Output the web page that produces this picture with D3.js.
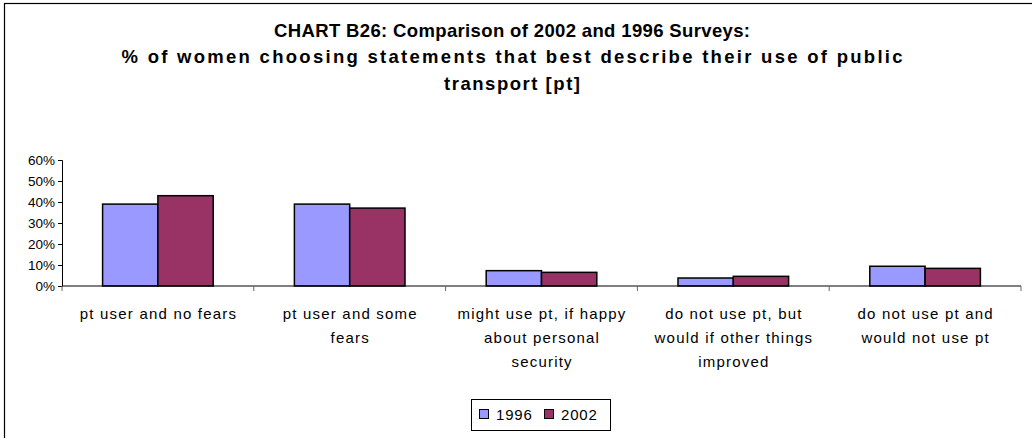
<!DOCTYPE html>
<html>
<head>
<meta charset="utf-8">
<script src="https://cdn.jsdelivr.net/npm/d3@7"></script>
<style>
	body { margin: 0; background: #fff; }
	svg { display: block; font-family: Arial, "Liberation Sans", sans-serif; }
</style>
</head>
<body>
<svg id="chart"></svg>
<script>
// chart data
var categories = [
	'pt user and no fears',
	'pt user and some\nfears',
	'might use pt, if happy\nabout personal\nsecurity',
	'do not use pt, but\nwould if other things\nimproved',
	'do not use pt and\nwould not use pt'
];
var series = ['1996', '2002'];
var values1996 = [0.39, 0.39, 0.073, 0.038, 0.094];
var values2002 = [0.43, 0.371, 0.065, 0.046, 0.084];
var yTicks = [0, 0.1, 0.2, 0.3, 0.4, 0.5, 0.6];
var titleLines = [
	'CHART B26: Comparison of 2002 and 1996 Surveys:',
	'% of women choosing statements that best describe their use of public',
	'transport [pt]'
];

window.onload = function init() {
	'use strict';

	var width = 1032,
		height = 438,
		colors = { '1996': '#9999ff', '2002': '#993366' },
		titleWidths = [476, 781, 136], // the old renderer spaces the title out
		svg = d3.select('svg#chart').attr('width', width).attr('height', height);

	var rows = categories.map(function(c, i) {
		return { cat: c, '1996': values1996[i], '2002': values2002[i] };
	});

	// outer chart border (runs off the bottom/right edges)
	svg.append('rect')
		.attr('x', 4.5).attr('y', 3.5)
		.attr('width', width + 20).attr('height', height + 20)
		.attr('fill', 'none').attr('stroke', '#000').attr('stroke-width', 1.2);

	// title
	svg.append('g').selectAll('text').data(titleLines).enter()
		.append('text')
		.attr('x', 512)
		.attr('y', function(d, i) { return 36.5 + i * 26.5; })
		.attr('text-anchor', 'middle')
		.attr('font-size', '18.5px')
		.attr('font-weight', 'bold')
		.attr('textLength', function(d, i) { return titleWidths[i]; })
		.attr('lengthAdjust', 'spacing')
		.text(function(d) { return d; });

	var x0 = d3.scaleBand().domain(categories).range([62, 1021]).padding(0),
		x1 = d3.scaleBand().domain(series).range([0, x0.bandwidth()]).paddingInner(0).paddingOuter(0.734),
		y = d3.scaleLinear().domain([0, 0.6]).range([286, 160]);

	// y axis
	var yAxis = svg.append('g')
		.attr('transform', 'translate(62,0)')
		.call(d3.axisLeft(y).tickValues(yTicks).tickFormat(d3.format('.0%')).tickSize(4).tickPadding(3));
	yAxis.select('.domain').attr('stroke', '#000');
	yAxis.selectAll('.tick line').attr('stroke', '#000');
	yAxis.selectAll('text').attr('font-size', '13.5px').attr('fill', '#000').attr('font-family', 'Arial, "Liberation Sans", sans-serif');

	// bars
	var groups = svg.append('g').selectAll('g').data(rows).enter()
		.append('g')
		.attr('transform', function(d) { return 'translate(' + x0(d.cat) + ',0)'; });
	groups.selectAll('rect').data(function(d) {
		return series.map(function(s) { return { key: s, value: d[s] }; });
	}).enter()
		.append('rect')
		.attr('x', function(d) { return x1(d.key); })
		.attr('y', function(d) { return y(d.value); })
		.attr('width', x1.bandwidth())
		.attr('height', function(d) { return y(0) - y(d.value); })
		.attr('fill', function(d) { return colors[d.key]; })
		.attr('stroke', '#000')
		.attr('stroke-width', 1.5);

	// category axis
	var xAxis = svg.append('g').attr('transform', 'translate(0,286)');
	xAxis.append('line').attr('x1', 62).attr('x2', 1021).attr('stroke', '#000');
	var bounds = categories.map(function(c) { return x0(c); }).concat([1021]);
	xAxis.selectAll('line.tick').data(bounds).enter()
		.append('line').attr('class', 'tick')
		.attr('x1', function(d) { return d; }).attr('x2', function(d) { return d; })
		.attr('y1', 0).attr('y2', 5)
		.attr('stroke', '#666');

	var labels = xAxis.selectAll('text').data(categories).enter()
		.append('text')
		.attr('text-anchor', 'middle')
		.attr('font-size', '15px')
		.attr('letter-spacing', '1.2px');
	labels.selectAll('tspan').data(function(d) { return d.split('\n'); }).enter()
		.append('tspan')
		.attr('x', function() { return x0(this.parentNode.__data__) + x0.bandwidth() / 2 + 0.6; })
		.attr('y', function(d, i) { return 33 + i * 24; })
		.text(function(d) { return d; });

	// legend
	var legend = svg.append('g');
	legend.append('rect')
		.attr('x', 471.5).attr('y', 399.5).attr('width', 139).attr('height', 31)
		.attr('fill', '#fff').attr('stroke', '#000');
	var items = legend.selectAll('g').data(series).enter()
		.append('g')
		.attr('transform', function(d, i) { return 'translate(' + (479 + i * 65) + ',0)'; });
	items.append('rect')
		.attr('x', 0.5).attr('y', 409.5).attr('width', 9).attr('height', 9)
		.attr('fill', function(d) { return colors[d]; })
		.attr('stroke', '#000');
	items.append('text')
		.attr('x', 17).attr('y', 419.5)
		.attr('font-size', '15px')
		.attr('letter-spacing', '0.8px')
		.text(function(d) { return d; });
};
</script>
</body>
</html>
